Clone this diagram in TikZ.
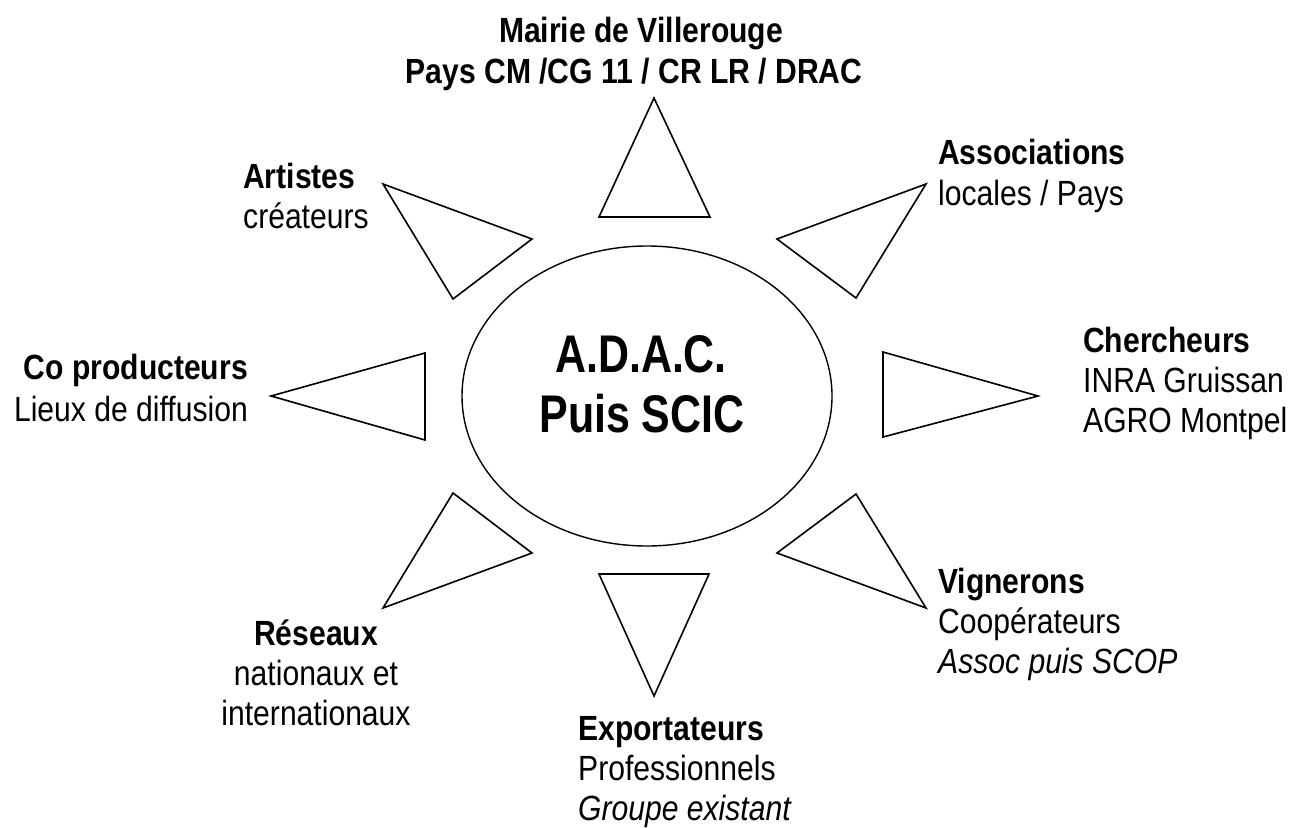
\documentclass[tikz,border=0pt]{standalone}
\usepackage{fontspec}
\setmainfont{Liberation Sans}[FakeStretch=0.86]
\newfontfamily\bigfont{Liberation Sans}[FakeStretch=0.81]
\usetikzlibrary{shapes.geometric}
\begin{document}
\begin{tikzpicture}[x=1pt,y=-1pt,
  tri/.style={draw=black,line width=1.6pt,line join=miter},
  lbl/.style={inner sep=0pt,font=\fontsize{35}{40}\selectfont},
  big/.style={inner sep=0pt,font=\bigfont\bfseries\fontsize{53}{60}\selectfont}]
\useasboundingbox (0,0) rectangle (1292,827);
% central ellipse
\node[draw=black,line width=1.4pt,ellipse,minimum width=370pt,minimum height=300pt,inner sep=0pt] (core) at (647,396) {};
\node[big,anchor=base] (adac) at (641,372) {A.D.A.C.};
\node[big,anchor=base] (scic) at (642,432) {Puis SCIC};
% triangles
\draw[tri] (654,98) -- (710,217) -- (599,217) -- cycle;
\draw[tri] (654,696) -- (709,574) -- (599,574) -- cycle;
\draw[tri] (383,184) -- (532,239) -- (453,299) -- cycle;
\draw[tri] (383,608) -- (532,553) -- (453,493) -- cycle;
\draw[tri] (926,184) -- (777,239) -- (856,298) -- cycle;
\draw[tri] (926,608) -- (777,553) -- (856,494) -- cycle;
\draw[tri] (271,396) -- (425,353) -- (425,440) -- cycle;
\draw[tri] (1038,396) -- (883,352) -- (883,437) -- cycle;
% top
\node[lbl,anchor=base] (mairie) at (641,42) {\bfseries Mairie de Villerouge};
\node[lbl,anchor=base] (pays) at (634,83) {\bfseries Pays CM /CG 11 / CR LR / DRAC};
% artistes
\node[lbl,anchor=base west] (art1) at (243,188) {\bfseries Artistes};
\node[lbl,anchor=base west] (art2) at (243,228) {créateurs};
% associations
\node[lbl,anchor=base west] (ass1) at (938,164) {\bfseries Associations};
\node[lbl,anchor=base west] (ass2) at (938,205) {locales / Pays};
% chercheurs
\node[lbl,anchor=base west] (ch1) at (1083,352) {\bfseries Chercheurs};
\node[lbl,anchor=base west] (ch2) at (1083,392) {INRA Gruissan};
\node[lbl,anchor=base west] (ch3) at (1083,432) {AGRO Montpel};
% co producteurs
\node[lbl,anchor=base east] (co1) at (248,379) {\bfseries Co producteurs};
\node[lbl,anchor=base east] (co2) at (248,421) {Lieux de diffusion};
% vignerons
\node[lbl,anchor=base west] (vi1) at (938,593) {\bfseries Vignerons};
\node[lbl,anchor=base west] (vi2) at (938,633) {Coopérateurs};
\node[lbl,anchor=base west] (vi3) at (938,673) {\itshape Assoc puis SCOP};
% reseaux
\node[lbl,anchor=base] (re1) at (316,645) {\bfseries Réseaux};
\node[lbl,anchor=base] (re2) at (316,685) {nationaux et};
\node[lbl,anchor=base] (re3) at (316,725) {internationaux};
% exportateurs
\node[lbl,anchor=base west] (ex1) at (578,740) {\bfseries Exportateurs};
\node[lbl,anchor=base west] (ex2) at (578,780) {Professionnels};
\node[lbl,anchor=base west] (ex3) at (578,820) {\itshape Groupe existant};
\end{tikzpicture}
\end{document}
